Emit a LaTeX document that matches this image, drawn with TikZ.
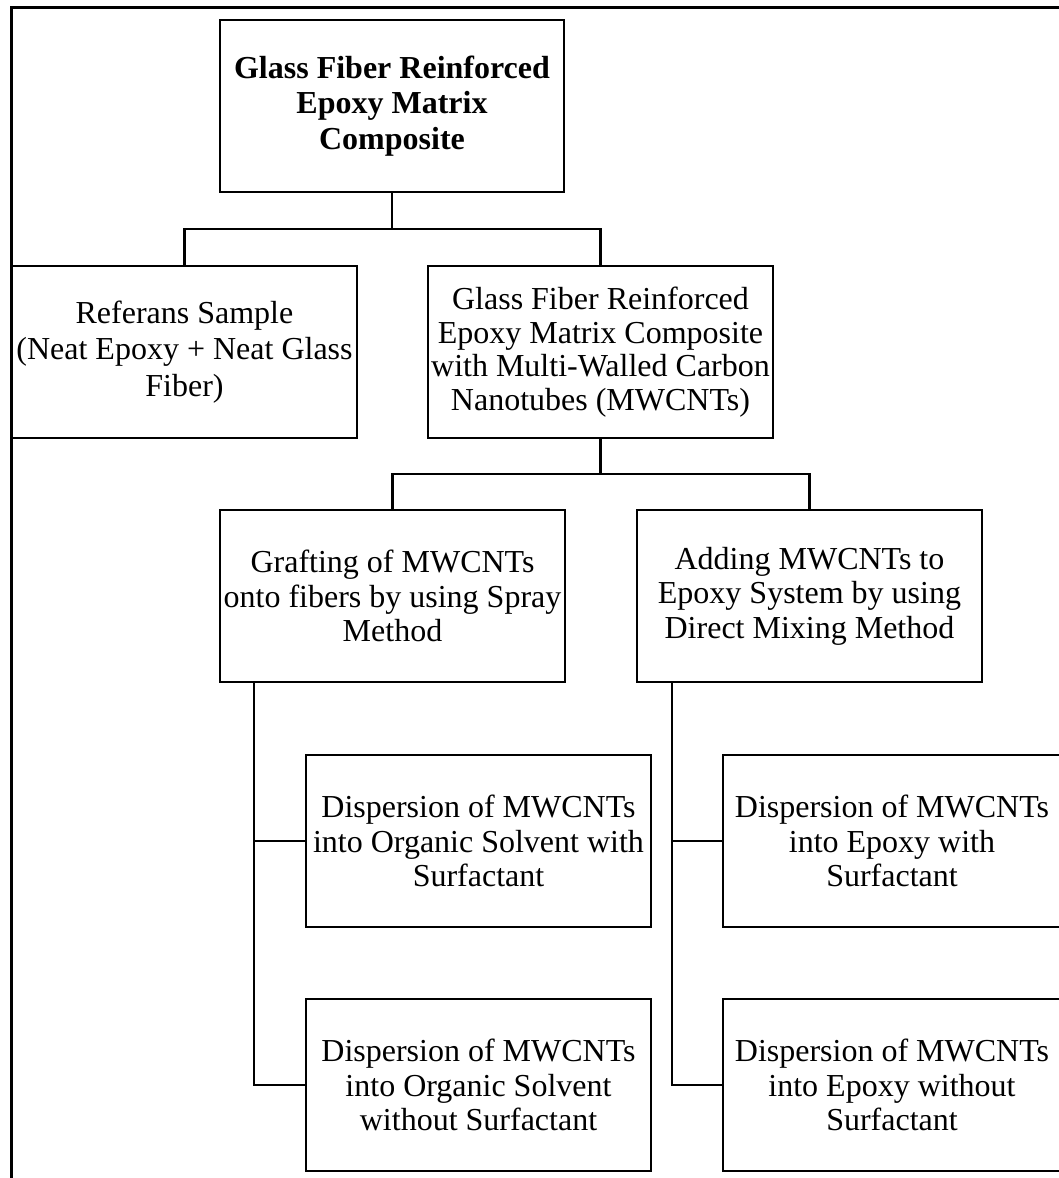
\documentclass[tikz,border=0pt]{standalone}
\usepackage{fontspec}
\setmainfont{Liberation Serif}
\usetikzlibrary{calc}
\begin{document}
\begin{tikzpicture}[x=0.75pt,y=-0.75pt,
  box/.style={draw,line width=2pt,inner sep=0pt,outer sep=0pt,align=center,
    font=\fontsize{24}{25.9}\selectfont,
    minimum width=345*0.75pt,minimum height=172*0.75pt},
  link/.style={line width=2pt},
  frame/.style={line width=1.7pt}]
\useasboundingbox (0,0) rectangle (1059,1178);
% frame
\coordinate (fa) at (11.5,1180);
\coordinate (fb) at (11.5,7.5);
\coordinate (fc) at (1061,7.5);
\draw[frame] (fa) -- (fb) -- (fc);
% boxes
\node[box,minimum width=344*0.75pt,font=\fontsize{24}{26.6}\selectfont\bfseries] (top) at (392,106)
  {Glass Fiber Reinforced\\Epoxy Matrix\\Composite};
\node[box,font=\fontsize{24}{27.6}\selectfont] (ref) at (184.5,352)
  {Referans Sample\\(Neat Epoxy + Neat Glass\\Fiber)};
\node[box,font=\fontsize{24}{25.2}\selectfont] (mw) at (600.5,352)
  {Glass Fiber Reinforced\\Epoxy Matrix Composite\\with Multi-Walled Carbon\\Nanotubes (MWCNTs)};
\node[box] (graft) at (392.5,596)
  {Grafting of MWCNTs\\onto fibers by using Spray\\Method};
\node[box] (add) at (809.5,596)
  {Adding MWCNTs to\\Epoxy System by using\\Direct Mixing Method};
\node[box] (d1) at (478.5,841)
  {Dispersion of MWCNTs\\into Organic Solvent with\\Surfactant};
\node[box] (d2) at (478.5,1085)
  {Dispersion of MWCNTs\\into Organic Solvent\\without Surfactant};
\node[box,minimum width=338*0.75pt] (d3) at (892,841)
  {Dispersion of MWCNTs\\into Epoxy with\\Surfactant};
\node[box,minimum width=338*0.75pt] (d4) at (892,1085)
  {Dispersion of MWCNTs\\into Epoxy without\\Surfactant};
% junctions
\coordinate (j1) at (392,229);
\coordinate (j2) at (600.5,474);
\coordinate (g1) at (254,682);
\coordinate (a1) at (672,682);
% connectors
\draw[link] (top.south) -- (j1);
\draw[link] (ref.north) |- (j1) -| (mw.north);
\draw[link] (mw.south) -- (j2);
\draw[link] (graft.north) |- (j2) -| (add.north);
\draw[link] (g1) |- (d2.west);
\draw[link] (d1.west) -- (d1.west -| g1);
\draw[link] (a1) |- (d4.west);
\draw[link] (d3.west) -- (d3.west -| a1);
\end{tikzpicture}
\end{document}
